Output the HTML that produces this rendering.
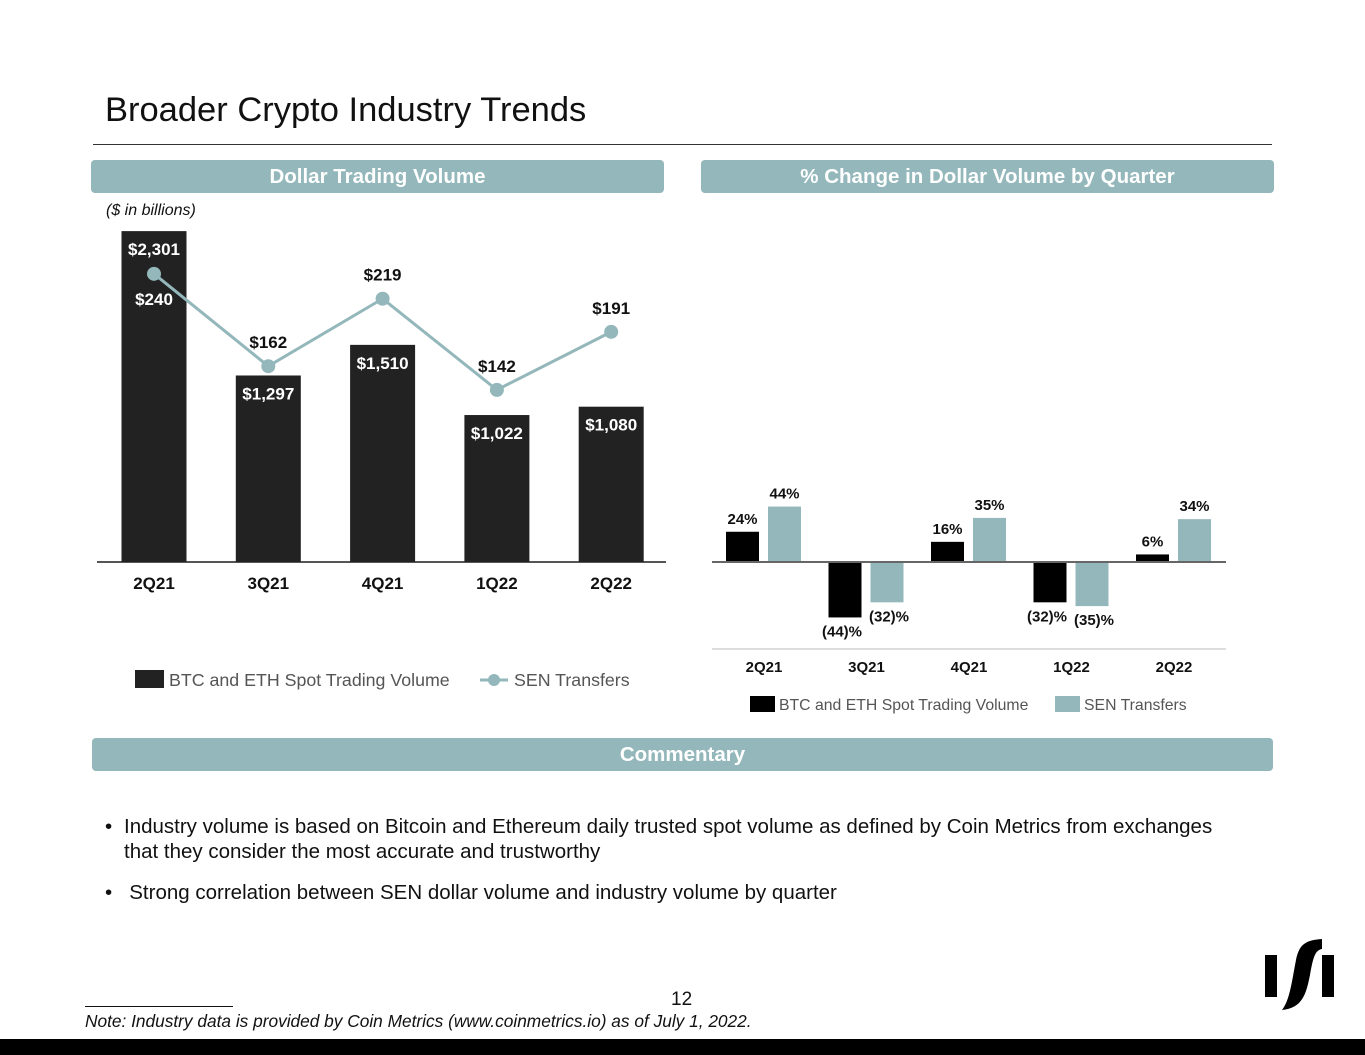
<!DOCTYPE html>
<html><head><meta charset="utf-8"><style>
body{margin:0;width:1365px;height:1055px;background:#fff;font-family:"Liberation Sans",Arial,sans-serif;position:relative;overflow:hidden}
.abs{position:absolute}
.hdr{position:absolute;background:#93b7ba;color:#fff;font-weight:bold;font-size:20.5px;text-align:center;line-height:33px;height:33px;border-radius:4px}
</style></head><body>
<div class="abs" style="left:105px;top:91px;font-size:34.5px;color:#111">Broader Crypto Industry Trends</div>
<div class="abs" style="left:93px;top:144px;width:1179px;height:1px;background:#333"></div>
<div class="hdr" style="left:91px;top:160px;width:573px">Dollar Trading Volume</div>
<div class="hdr" style="left:701px;top:160px;width:573px">% Change in Dollar Volume by Quarter</div>
<div class="abs" style="left:106px;top:202px;font-size:16px;font-style:italic;color:#111">($ in billions)</div>
<svg class="abs" style="left:0;top:0" width="1365" height="1055">
<g id="left"></g><g id="right"></g>
<rect x="135" y="670" width="29" height="18" fill="#222"/>
<text x="169" y="686" font-size="17.8" fill="#555">BTC and ETH Spot Trading Volume</text>
<line x1="480" y1="680" x2="508" y2="680" stroke="#93b7ba" stroke-width="3"/>
<circle cx="494" cy="680" r="6" fill="#93b7ba"/>
<text x="514" y="686" font-size="17.8" fill="#555">SEN Transfers</text>
<rect x="750" y="696" width="25" height="16" fill="#000"/>
<text x="779" y="710" font-size="15.8" fill="#555">BTC and ETH Spot Trading Volume</text>
<rect x="1055" y="696" width="25" height="16" fill="#93b7ba"/>
<text x="1084" y="710" font-size="15.8" fill="#555">SEN Transfers</text>
<path d="M1265 955h12v42h-12z M1322 955h12v42h-12z M1282 1010 C1290 1000 1292 980 1296 960 C1299 945 1305 940 1322 939 l0 10 C1315 950 1313 958 1310 975 C1306 995 1302 1008 1282 1010z" fill="#000"/>
</svg>
<div class="hdr" style="left:92px;top:738px;width:1181px">Commentary</div>
<div class="abs" style="left:105px;top:814px;width:1130px;font-size:20.5px;color:#111;line-height:25px"><span style="position:absolute;left:0">•</span><div style="margin-left:19px">Industry volume is based on Bitcoin and Ethereum daily trusted spot volume as defined by Coin Metrics from exchanges that they consider the most accurate and trustworthy</div></div>
<div class="abs" style="left:105px;top:880px;font-size:20.5px;color:#111;line-height:25px">•&nbsp;&nbsp; Strong correlation between SEN dollar volume and industry volume by quarter</div>
<div class="abs" style="left:671px;top:989px;font-size:19px;color:#111">12</div>
<div class="abs" style="left:85px;top:1006px;width:148px;height:1px;background:#111"></div>
<div class="abs" style="left:85px;top:1011px;font-size:17.3px;font-style:italic;color:#111">Note: Industry data is provided by Coin Metrics (www.coinmetrics.io) as of July 1, 2022.</div>
<div class="abs" style="left:0;top:1039px;width:1365px;height:16px;background:#000"></div>
<script>
const quarters=["2Q21","3Q21","4Q21","1Q22","2Q22"];
const btcVolume=[2301,1297,1510,1022,1080];
const btcLabels=["$2,301","$1,297","$1,510","$1,022","$1,080"];
const senVolume=[240,162,219,142,191];
const senLabels=["$240","$162","$219","$142","$191"];
const btcPct=[24,-44,16,-32,6];
const senPct=[44,-32,35,-35,34];
const NS="http://www.w3.org/2000/svg";
function mk(p,tag,a,txt){const e=document.createElementNS(NS,tag);for(const k in a)e.setAttribute(k,a[k]);if(txt!==undefined)e.textContent=txt;p.appendChild(e);return e;}
const L=document.getElementById('left');
const lx=i=>154+i*114.3, lyB=v=>562-v*0.1438, lyS=v=>558-v*1.184;
let ax=mk(L,'line',{x1:97,y1:562,x2:666,y2:562,stroke:'#555','stroke-width':2});

quarters.forEach((q,i)=>{
 let r=mk(L,'rect',{x:lx(i)-32.5,y:lyB(btcVolume[i]),width:65,height:562-lyB(btcVolume[i]),fill:'#222'});
 
 let t=mk(L,'text',{x:lx(i),y:lyB(btcVolume[i])+24,'text-anchor':'middle','font-size':17,'font-weight':'bold',fill:'#fff'},btcLabels[i]);
 
 let x=mk(L,'text',{x:lx(i),y:589,'text-anchor':'middle','font-size':17,'font-weight':'bold',fill:'#111'},q);
 
});
let pl=mk(L,'polyline',{points:senVolume.map((v,i)=>lx(i)+','+lyS(v)).join(' '),fill:'none',stroke:'#93b7ba','stroke-width':3});

senVolume.forEach((v,i)=>{
 let c=mk(L,'circle',{cx:lx(i),cy:lyS(v),r:7,fill:'#93b7ba'});
 
 const inside=lyS(v)>lyB(btcVolume[i]);
 let t=mk(L,'text',{x:lx(i),y:inside?lyS(v)+31:lyS(v)-18,'text-anchor':'middle','font-size':17,'font-weight':'bold',fill:inside?'#fff':'#111'},senLabels[i]);
 
});
const R=document.getElementById('right');
const rx=i=>764+i*102.5, ry=v=>562-v*1.26;
quarters.forEach((q,i)=>{
 [[btcPct[i],'#000',-38,'btc'],[senPct[i],'#93b7ba',4,'sen']].forEach(([v,col,off,nm])=>{
  const y=Math.min(ry(v),562),h=Math.abs(ry(v)-562);
  let r=mk(R,'rect',{x:rx(i)+off,y:y,width:33,height:h,fill:col});
  
  const lbl=v>=0?v+'%':'('+(-v)+')%';
  let lxp=rx(i)+off+16.5, ly=v>=0?ry(v)-8:ry(v)+19;
  if(v<0&&nm==='btc'){lxp-=3;}
  if(v<0&&nm==='sen'){lxp+=2;}
  let t=mk(R,'text',{x:lxp,y:ly,'text-anchor':'middle','font-size':15,'font-weight':'bold',fill:'#111'},lbl);
  
 });
 let x=mk(R,'text',{x:rx(i),y:672,'text-anchor':'middle','font-size':15,'font-weight':'bold',fill:'#111'},q);
 
});
let z=mk(R,'line',{x1:712,y1:562,x2:1226,y2:562,stroke:'#666','stroke-width':2});

let b=mk(R,'line',{x1:712,y1:649,x2:1226,y2:649,stroke:'#bbb','stroke-width':1});

</script>
</body></html>
